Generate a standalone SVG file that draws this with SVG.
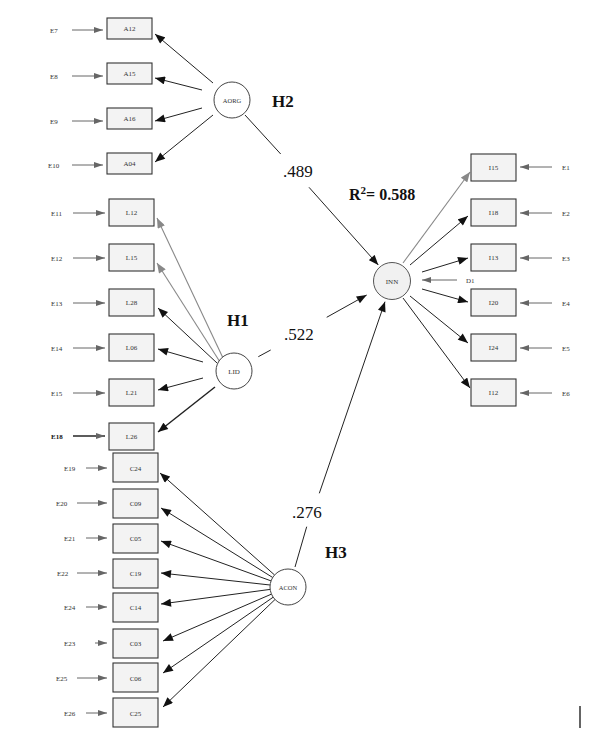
<svg xmlns="http://www.w3.org/2000/svg" width="608" height="745" viewBox="0 0 608 745">
<style>
.bg{fill:#fff}
.box{fill:#f3f3f3;stroke:#333;stroke-width:1.1}
.lat{fill:#fff;stroke:#444;stroke-width:1}
.latg{fill:#f1f1f1;stroke:#555;stroke-width:1}
.sm{font-family:"Liberation Serif","Times New Roman",serif;font-size:7px;fill:#333}
.smc{font-family:"Liberation Serif","Times New Roman",serif;font-size:7px;fill:#333;text-anchor:middle}
.big{font-family:"Liberation Serif","Times New Roman",serif;font-size:17px;fill:#111}
.bold{font-family:"Liberation Serif","Times New Roman",serif;font-size:17px;font-weight:bold;fill:#111}
.ln{stroke:#222;stroke-width:1;fill:none;marker-end:url(#ah)}
.lng{stroke:#888;stroke-width:1.1;fill:none;marker-end:url(#ahg2)}
.ln0{stroke:#222;stroke-width:1;fill:none}
.err{stroke:#666;stroke-width:1;fill:none;marker-end:url(#ahg)}
</style>
<defs>
<marker id="ah" markerUnits="userSpaceOnUse" markerWidth="11" markerHeight="8" refX="10" refY="4" orient="auto" viewBox="0 0 10 8"><path d="M0,0 L10,4 L0,8 z" fill="#111"/></marker>
<marker id="ahg" markerUnits="userSpaceOnUse" markerWidth="9" markerHeight="6" refX="9" refY="3" orient="auto" viewBox="0 0 9 6"><path d="M0,0 L9,3 L0,6 z" fill="#666"/></marker>
<marker id="ahg2" markerUnits="userSpaceOnUse" markerWidth="11" markerHeight="8" refX="10" refY="4" orient="auto" viewBox="0 0 10 8"><path d="M0,0 L10,4 L0,8 z" fill="#888"/></marker>
</defs>
<rect class="bg" x="0" y="0" width="608" height="745"/>

<g id="connectors">
<!-- error arrows A -->
<line class="err" x1="72" y1="30" x2="103" y2="30"/>
<line class="err" x1="72" y1="76" x2="103" y2="76"/>
<line class="err" x1="72" y1="121" x2="103" y2="121"/>
<line class="err" x1="72" y1="165" x2="103" y2="165"/>
<!-- error arrows L -->
<line class="err" x1="73" y1="213" x2="105" y2="213"/>
<line class="err" x1="73" y1="258" x2="105" y2="258"/>
<line class="err" x1="73" y1="303" x2="105" y2="303"/>
<line class="err" x1="73" y1="348" x2="105" y2="348"/>
<line class="err" x1="73" y1="393" x2="105" y2="393"/>
<line class="err" x1="73" y1="436" x2="105" y2="436" style="stroke:#333;stroke-width:1.6"/>
<!-- error arrows C -->
<line class="err" x1="86" y1="468" x2="107" y2="468"/>
<line class="err" x1="77" y1="503" x2="107" y2="503"/>
<line class="err" x1="86" y1="538" x2="107" y2="538"/>
<line class="err" x1="77" y1="573" x2="107" y2="573"/>
<line class="err" x1="86" y1="607" x2="107" y2="607"/>
<line class="err" x1="95" y1="643" x2="107" y2="643"/>
<line class="err" x1="77" y1="678" x2="107" y2="678"/>
<line class="err" x1="86" y1="713" x2="107" y2="713"/>
<!-- error arrows I -->
<line class="err" x1="552" y1="167" x2="520" y2="167"/>
<line class="err" x1="552" y1="213" x2="520" y2="213"/>
<line class="err" x1="552" y1="258" x2="520" y2="258"/>
<line class="err" x1="552" y1="303" x2="520" y2="303"/>
<line class="err" x1="552" y1="348" x2="520" y2="348"/>
<line class="err" x1="552" y1="393" x2="520" y2="393"/>
<line class="err" x1="457" y1="280" x2="422" y2="280"/>
<!-- AORG loadings -->
<line class="ln" x1="213" y1="83" x2="155" y2="34"/>
<line class="ln" x1="202" y1="90" x2="155" y2="78"/>
<line class="ln" x1="202" y1="108" x2="155" y2="121"/>
<line class="ln" x1="213" y1="115" x2="155" y2="162"/>
<!-- LID loadings -->
<line class="lng" x1="223" y1="358" x2="157" y2="218"/>
<line class="lng" x1="220" y1="362" x2="157" y2="263"/>
<line class="ln" x1="217" y1="363" x2="158" y2="308"/>
<line class="ln" x1="203" y1="362" x2="158" y2="349"/>
<line class="ln" x1="203" y1="378" x2="158" y2="390"/>
<line class="ln" x1="215" y1="387" x2="158" y2="432" style="stroke-width:1.5"/>
<!-- ACON loadings -->
<line class="ln" x1="274.6" y1="575" x2="160" y2="473"/>
<line class="ln" x1="272.7" y1="577.5" x2="161" y2="508"/>
<line class="ln" x1="271.1" y1="580.9" x2="161" y2="541"/>
<line class="ln" x1="270.1" y1="585" x2="161" y2="573"/>
<line class="ln" x1="270.2" y1="589.4" x2="161" y2="604"/>
<line class="ln" x1="271.5" y1="594.1" x2="163" y2="641"/>
<line class="ln" x1="273.2" y1="597.2" x2="163" y2="673"/>
<line class="ln" x1="275" y1="599.5" x2="163" y2="707"/>
<!-- INN loadings -->
<line class="lng" x1="403" y1="263" x2="470" y2="172"/>
<line class="ln" x1="410" y1="265" x2="468" y2="216"/>
<line class="ln" x1="422" y1="272" x2="468" y2="258"/>
<line class="ln" x1="422" y1="289" x2="468" y2="302"/>
<line class="ln" x1="410" y1="296" x2="468" y2="343"/>
<line class="ln" x1="403" y1="298" x2="470" y2="388"/>
<!-- structural paths -->
<line class="ln0" x1="245" y1="115" x2="280.7" y2="154"/>
<line class="ln" x1="309" y1="187.3" x2="378.3" y2="265"/>
<line class="ln0" x1="258.3" y1="356.7" x2="270.7" y2="350"/>
<line class="ln" x1="326.7" y1="317.3" x2="366.7" y2="295"/>
<line class="ln0" x1="295" y1="567" x2="306.7" y2="526.7"/>
<line class="ln" x1="319.3" y1="493.3" x2="385" y2="301.7"/>
</g>

<g id="AORG"><circle class="lat" cx="232" cy="100" r="18"/><text class="smc" x="232" y="102.5" style="font-size:6.5px">AORG</text></g>
<g id="LID"><circle class="lat" cx="234" cy="371" r="18"/><text class="smc" x="234" y="373.5">LID</text></g>
<g id="ACON"><circle class="lat" cx="288" cy="587" r="18"/><text class="smc" x="288" y="589.5" style="font-size:6.5px">ACON</text></g>
<g id="INN"><circle class="latg" cx="392" cy="281" r="18.5"/><text class="smc" x="392" y="283.5">INN</text></g>

<g id="A12"><rect class="box" x="107" y="18" width="45" height="21"/><text class="smc" x="129.5" y="31">A12</text><text class="sm" x="50" y="32.5">E7</text></g>
<g id="A15"><rect class="box" x="107" y="63" width="45" height="21"/><text class="smc" x="129.5" y="76">A15</text><text class="sm" x="50" y="78.5">E8</text></g>
<g id="A16"><rect class="box" x="107" y="108" width="45" height="21"/><text class="smc" x="129.5" y="121">A16</text><text class="sm" x="50" y="123.5">E9</text></g>
<g id="A04"><rect class="box" x="107" y="153" width="45" height="21"/><text class="smc" x="129.5" y="166">A04</text><text class="sm" x="48" y="167.5">E10</text></g>

<g id="L12"><rect class="box" x="109" y="199" width="45" height="27"/><text class="smc" x="131.5" y="215">L12</text><text class="sm" x="51" y="215.5">E11</text></g>
<g id="L15"><rect class="box" x="109" y="244" width="45" height="27"/><text class="smc" x="131.5" y="260">L15</text><text class="sm" x="51" y="260.5">E12</text></g>
<g id="L28"><rect class="box" x="109" y="289" width="45" height="27"/><text class="smc" x="131.5" y="305">L28</text><text class="sm" x="51" y="305.5">E13</text></g>
<g id="L06"><rect class="box" x="109" y="334" width="45" height="27"/><text class="smc" x="131.5" y="350">L06</text><text class="sm" x="51" y="350.5">E14</text></g>
<g id="L21"><rect class="box" x="109" y="379" width="45" height="27"/><text class="smc" x="131.5" y="395">L21</text><text class="sm" x="51" y="395.5">E15</text></g>
<g id="L26"><rect class="box" x="109" y="423" width="45" height="27"/><text class="smc" x="131.5" y="439">L26</text><text class="sm" x="51" y="438.5" style="font-weight:bold;fill:#111">E18</text></g>

<g id="C24"><rect class="box" x="113" y="453" width="45" height="29"/><text class="smc" x="135.5" y="470.5">C24</text><text class="sm" x="64" y="470.5">E19</text></g>
<g id="C09"><rect class="box" x="113" y="489" width="45" height="29"/><text class="smc" x="135.5" y="505.5">C09</text><text class="sm" x="56" y="505.5">E20</text></g>
<g id="C05"><rect class="box" x="113" y="524" width="45" height="29"/><text class="smc" x="135.5" y="540.5">C05</text><text class="sm" x="64" y="540.5">E21</text></g>
<g id="C19"><rect class="box" x="113" y="559" width="45" height="29"/><text class="smc" x="135.5" y="575.5">C19</text><text class="sm" x="57" y="575.5">E22</text></g>
<g id="C14"><rect class="box" x="113" y="593" width="45" height="29"/><text class="smc" x="135.5" y="609.5">C14</text><text class="sm" x="64" y="609.5">E24</text></g>
<g id="C03"><rect class="box" x="113" y="629" width="45" height="29"/><text class="smc" x="135.5" y="645.5">C03</text><text class="sm" x="64" y="645.5">E23</text></g>
<g id="C06"><rect class="box" x="113" y="663" width="45" height="29"/><text class="smc" x="135.5" y="680.5">C06</text><text class="sm" x="56" y="680.5">E25</text></g>
<g id="C25"><rect class="box" x="113" y="698" width="45" height="29"/><text class="smc" x="135.5" y="715.5">C25</text><text class="sm" x="64" y="715.5">E26</text></g>

<g id="I15"><rect class="box" x="471" y="154" width="45" height="27"/><text class="smc" x="493.5" y="170">I15</text><text class="sm" x="562" y="169.5">E1</text></g>
<g id="I18"><rect class="box" x="471" y="199" width="45" height="27"/><text class="smc" x="493.5" y="215">I18</text><text class="sm" x="562" y="215.5">E2</text></g>
<g id="I13"><rect class="box" x="471" y="244" width="45" height="27"/><text class="smc" x="493.5" y="260">I13</text><text class="sm" x="562" y="260.5">E3</text></g>
<g id="I20"><rect class="box" x="471" y="289" width="45" height="27"/><text class="smc" x="493.5" y="305">I20</text><text class="sm" x="562" y="305.5">E4</text></g>
<g id="I24"><rect class="box" x="471" y="334" width="45" height="27"/><text class="smc" x="493.5" y="350">I24</text><text class="sm" x="562" y="350.5">E5</text></g>
<g id="I12"><rect class="box" x="471" y="379" width="45" height="27"/><text class="smc" x="493.5" y="395">I12</text><text class="sm" x="562" y="395.5">E6</text></g>
<g id="D1"><text class="sm" x="466" y="282.5">D1</text></g>

<g id="labels">
<text class="bold" x="272" y="107">H2</text>
<text class="bold" x="227" y="326">H1</text>
<text class="bold" x="325" y="558">H3</text>
<text class="big" x="283" y="177">.489</text>
<text class="big" x="284" y="340">.522</text>
<text class="big" x="292" y="518">.276</text>
<text class="bold" x="349" y="200" style="font-size:16px">R<tspan dy="-6" style="font-size:11px">2</tspan><tspan dy="6">= 0.588</tspan></text>
</g>
<line x1="580" y1="706" x2="580" y2="728" stroke="#111" stroke-width="1.3"/>
</svg>
